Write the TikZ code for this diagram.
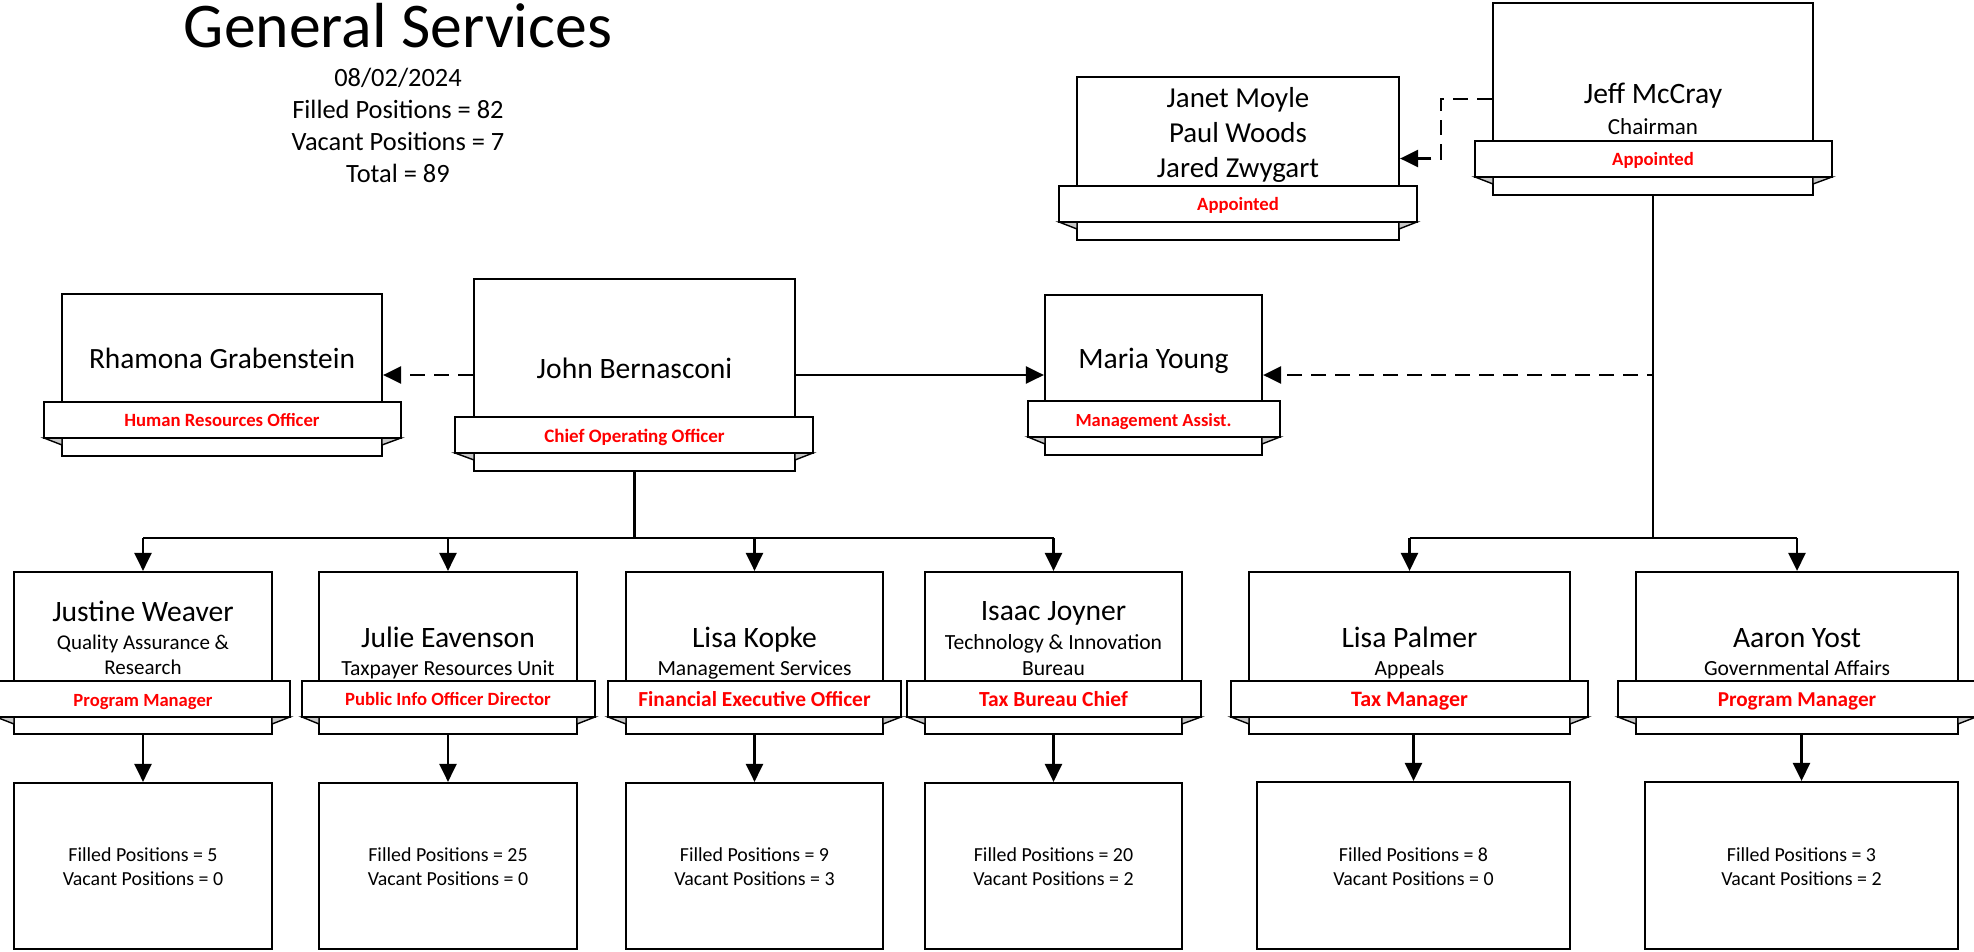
\documentclass[tikz,border=0pt]{standalone}
\usepackage{fontspec}
\setmainfont{Carlito}
\usetikzlibrary{arrows.meta,fit}

\definecolor{foldgray}{RGB}{200,200,200}
\definecolor{rolered}{RGB}{255,0,0}

\tikzset{
  card/.style={draw, line width=2.2pt, fill=white, inner sep=0pt},
  band/.style={draw, line width=2.2pt, fill=white, inner sep=0pt},
  fold/.style={fill=foldgray, draw, line width=1.4pt, line join=miter},
  conn/.style={line width=2.6pt},
  link/.style={conn, -{Triangle[width=17pt,length=18pt]}},
  dlink/.style={link, dash pattern=on 15pt off 9pt},
  pname/.style={anchor=base, inner sep=0pt, font=\fontsize{#1}{#1}\selectfont},
  pname/.default=29.6,
  punit/.style={anchor=base, inner sep=0pt, font=\fontsize{#1}{#1}\selectfont},
  punit/.default=21.6,
  prole/.style={anchor=base, inner sep=0pt, text=rolered, font=\fontsize{#1}{#1}\selectfont\bfseries},
  prole/.default=18.7,
  pcount/.style={anchor=base, inner sep=0pt, font=\fontsize{19.9}{24}\selectfont},
  head/.style={anchor=base, inner sep=0pt, font=\fontsize{26.4}{31}\selectfont},
}

% #1 name, #2..#5 card corners, #6 #7 band left/right, #8 #9 band top/bottom
\newcommand\orgcard[9]{%
  \node[card, fit={(#2,#3) (#4,#5)}] (#1) {};
  \filldraw[fold] (#6,#9) -- (#2,#9+7) -- (#2,#9) -- cycle;
  \filldraw[fold] (#7,#9) -- (#4,#9+7) -- (#4,#9) -- cycle;
  \node[band, fit={(#6,#8) (#7,#9)}] (#1-band) {};
}

\begin{document}
\begin{tikzpicture}[x=1pt, y=-1pt]
\fill[white] (0,0) rectangle (1974,951);
\useasboundingbox (0,0) rectangle (1974,951);

% heading
\node[anchor=base, inner sep=0pt, font=\fontsize{63.7}{70}\selectfont] (title) at (398,47) {General Services};
\node[head] (date) at (398,86) {08/02/2024};
\node[head] (filled) at (398,118) {Filled Positions = 82};
\node[head] (vacant) at (398,150) {Vacant Positions = 7};
\node[head] (total) at (398,182) {Total = 89};

% upper cards
\orgcard{jeff}{1493}{3}{1813}{195}{1475}{1832}{141}{177}
\node[pname] (jeff-n) at (1653,103) {Jeff McCray};
\node[punit=23] (jeff-u) at (1653,134) {Chairman};
\node[prole] (jeff-r) at (1653,165) {Appointed};

\orgcard{board}{1077}{77}{1399}{240}{1059}{1417}{186}{222}
\node[pname=28.9] (board-1) at (1238,107) {Janet Moyle};
\node[pname=28.9] (board-2) at (1238,142) {Paul Woods};
\node[pname=28.9] (board-3) at (1238,177) {Jared Zwygart};
\node[prole] (board-r) at (1238,210) {Appointed};

\orgcard{rhamona}{62}{294}{382}{456}{44}{401}{402}{438}
\node[pname=29.4] (rhamona-n) at (222,368) {Rhamona Grabenstein};
\node[prole] (rhamona-r) at (222,426) {Human Resources Officer};

\orgcard{john}{474}{279}{795}{471}{455}{813}{417}{453}
\node[pname] (john-n) at (634.5,378) {John Bernasconi};
\node[prole=19] (john-r) at (634.5,442) {Chief Operating Officer};

\orgcard{maria}{1045}{295}{1262}{455}{1028}{1280}{401}{437}
\node[pname] (maria-n) at (1153.5,368) {Maria Young};
\node[prole=18.5] (maria-r) at (1153.5,426) {Management Assist.};

% lower cards
\orgcard{justine}{14}{572}{272}{734}{-4}{290}{681}{717}
\node[pname] (justine-n) at (143,621) {Justine Weaver};
\node[punit=21] (justine-u1) at (143,649) {Quality Assurance \&};
\node[punit=21] (justine-u2) at (143,674) {Research};
\node[prole=18.6] (justine-r) at (143,706) {Program Manager};

\orgcard{julie}{319}{572}{577}{734}{302}{595}{681}{717}
\node[pname] (julie-n) at (448,647) {Julie Eavenson};
\node[punit] (julie-u) at (448,675) {Taxpayer Resources Unit};
\node[prole] (julie-r) at (448,705) {Public Info Officer Director};

\orgcard{kopke}{626}{572}{883}{734}{608}{901}{681}{717}
\node[pname] (kopke-n) at (754.5,647) {Lisa Kopke};
\node[punit] (kopke-u) at (754.5,675) {Management Services};
\node[prole=21.4] (kopke-r) at (754.5,706) {Financial Executive Officer};

\orgcard{isaac}{925}{572}{1182}{734}{907}{1201}{681}{717}
\node[pname] (isaac-n) at (1053.5,620) {Isaac Joyner};
\node[punit] (isaac-u1) at (1053.5,649) {Technology \& Innovation};
\node[punit] (isaac-u2) at (1053.5,675) {Bureau};
\node[prole=21.5] (isaac-r) at (1053.5,706) {Tax Bureau Chief};

\orgcard{palmer}{1249}{572}{1570}{734}{1231}{1588}{681}{717}
\node[pname] (palmer-n) at (1409.5,647) {Lisa Palmer};
\node[punit] (palmer-u) at (1409.5,675) {Appeals};
\node[prole=22] (palmer-r) at (1409.5,706) {Tax Manager};

\orgcard{aaron}{1636}{572}{1958}{734}{1618}{1976}{681}{717}
\node[pname] (aaron-n) at (1797,647) {Aaron Yost};
\node[punit] (aaron-u) at (1797,675) {Governmental Affairs};
\node[prole=21.2] (aaron-r) at (1797,706) {Program Manager};

% head-count cards
\node[card, fit={(14,783) (272,949)}] (justine-c) {};
\node[pcount] (justine-f) at (143,861) {Filled Positions = 5};
\node[pcount] (justine-v) at (143,885) {Vacant Positions = 0};

\node[card, fit={(319,783) (577,949)}] (julie-c) {};
\node[pcount] (julie-f) at (448,861) {Filled Positions = 25};
\node[pcount] (julie-v) at (448,885) {Vacant Positions = 0};

\node[card, fit={(626,783) (883,949)}] (kopke-c) {};
\node[pcount] (kopke-f) at (754.5,861) {Filled Positions = 9};
\node[pcount] (kopke-v) at (754.5,885) {Vacant Positions = 3};

\node[card, fit={(925,783) (1182,949)}] (isaac-c) {};
\node[pcount] (isaac-f) at (1053.5,861) {Filled Positions = 20};
\node[pcount] (isaac-v) at (1053.5,885) {Vacant Positions = 2};

\node[card, fit={(1257,782) (1570,949)}] (palmer-c) {};
\node[pcount] (palmer-f) at (1413.5,861) {Filled Positions = 8};
\node[pcount] (palmer-v) at (1413.5,885) {Vacant Positions = 0};

\node[card, fit={(1645,782) (1958,949)}] (aaron-c) {};
\node[pcount] (aaron-f) at (1801.5,861) {Filled Positions = 3};
\node[pcount] (aaron-v) at (1801.5,885) {Vacant Positions = 2};

% reporting lines
\coordinate (lbus) at (john.south |- 0,538);
\coordinate (rbus) at (jeff.south |- 0,538);
\draw[conn] (john.south) -- (lbus);
\draw[conn] (justine.north |- lbus) -- (isaac.north |- lbus);
\foreach \n in {justine,julie,kopke,isaac}
  \draw[link] (\n.north |- lbus) -- (\n.north);
\draw[conn] (jeff.south) -- (rbus);
\draw[conn] (palmer.north |- rbus) -- (aaron.north |- rbus);
\foreach \n in {palmer,aaron}
  \draw[link] (\n.north |- rbus) -- (\n.north);

\draw[link] (john.east) -- (maria.west);
\draw[dlink] (john.west) -- (rhamona.east);
\draw[dlink, dash phase=9pt] (jeff.south |- maria.east) -- (maria.east);
\draw[dlink] (jeff.west) -- ++(-51,0) |- (board.east);

\foreach \n in {justine,julie,kopke,isaac,palmer,aaron}
  \draw[link] (\n-c.north |- \n.south) -- (\n-c.north);
\end{tikzpicture}
\end{document}
